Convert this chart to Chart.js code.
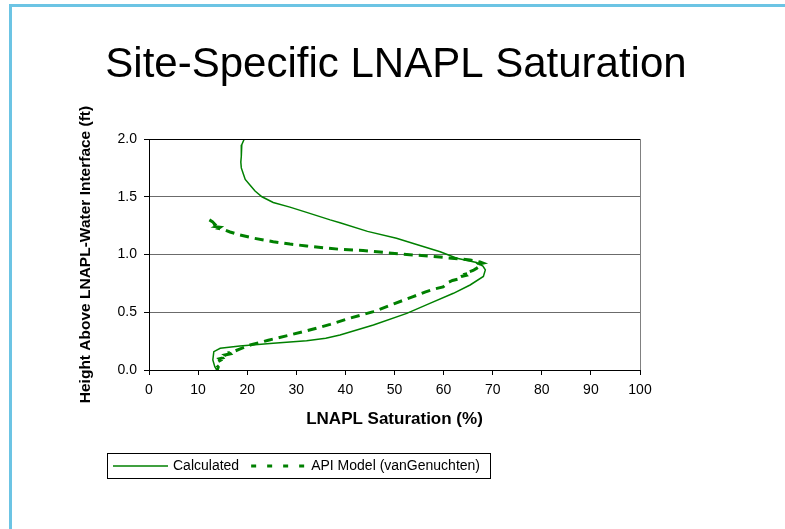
<!DOCTYPE html>
<html>
<head>
<meta charset="utf-8">
<title>Site-Specific LNAPL Saturation</title>
<script src="https://cdn.jsdelivr.net/npm/chart.js@4.4.1/dist/chart.umd.min.js"></script>
<style>
    body { margin: 0; background: #fff; }
    #wrap { position: relative; width: 785px; height: 529px; overflow: hidden; }
    #frame { position: absolute; left: 9px; top: 4px; width: 900px; height: 700px;
             border-left: 3px solid #6cc4e4; border-top: 3px solid #6cc4e4; }
    canvas { position: absolute; left: 0; top: 0; }
</style>
</head>
<body>
<div id="wrap">
    <div id="frame"></div>
    <canvas id="satChart" width="785" height="529"></canvas>
</div>
<script>
    "use strict";

    // Calculated saturation profile (% vs height above interface, ft)
    const calcSat = [19.4, 18.9, 18.8, 18.8, 18.7, 18.8, 19.2, 19.6, 20.6, 21.6, 23.0, 25.3, 28.7, 32.1, 36.9,
        38.9, 44.5, 50.4, 55.0, 59.3, 62.7, 66.7, 68.0, 68.5, 68.1, 65.4, 62.0, 57.2, 52.5, 45.7, 38.9, 36.0,
        32.1, 25.3, 18.5, 14.5, 13.2, 13.0, 13.4, 13.8];
    const calcHeight = [2.00, 1.95, 1.90, 1.85, 1.80, 1.75, 1.70, 1.65, 1.60, 1.55, 1.50, 1.45, 1.41, 1.365, 1.30,
        1.275, 1.20, 1.14, 1.08, 1.024, 0.967, 0.93, 0.90, 0.866, 0.81, 0.736, 0.664, 0.577, 0.49, 0.39, 0.303, 0.274,
        0.254, 0.231, 0.208, 0.188, 0.159, 0.087, 0.029, 0.0];

    // API model (van Genuchten) profile
    const apiSat = [12.3, 12.9, 13.4, 13.0, 14.0, 13.6, 14.5, 14.2, 15.1, 16.5, 18.5, 21.5, 25.3, 28.7, 32.1,
        35.5, 38.9, 43.6, 48.5, 53.8, 57.5, 60.6, 63.2, 65.4, 66.5, 67.4, 68.0, 67.2, 67.6, 66.7, 66.0, 65.2,
        65.5, 64.4, 64.6, 63.6, 62.8, 63.0, 61.8, 61.0, 60.6, 59.9, 58.0, 56.2, 53.8, 50.0, 45.7, 41.0, 38.0,
        36.9, 33.5, 28.7, 24.3, 20.6, 18.7, 17.2, 16.4, 16.6, 15.5, 15.8, 14.8, 15.0, 14.3, 14.6, 14.0, 14.3,
        13.8, 14.1, 13.9];
    const apiHeight = [1.300, 1.285, 1.262, 1.255, 1.248, 1.240, 1.235, 1.226, 1.218, 1.195, 1.169, 1.140, 1.111,
        1.090, 1.074, 1.058, 1.045, 1.035, 1.015, 0.996, 0.985, 0.972, 0.962, 0.952, 0.945, 0.935, 0.925, 0.918,
        0.905, 0.880, 0.862, 0.850, 0.843, 0.830, 0.820, 0.810, 0.795, 0.788, 0.775, 0.760, 0.745, 0.720, 0.700,
        0.675, 0.635, 0.575, 0.505, 0.450, 0.410, 0.395, 0.355, 0.303, 0.258, 0.216, 0.185, 0.159, 0.150, 0.140,
        0.130, 0.122, 0.115, 0.105, 0.097, 0.085, 0.070, 0.055, 0.040, 0.025, 0.0];

    // Axis ticks
    const satTicks = [0, 10, 20, 30, 40, 50, 60, 70, 80, 90, 100];
    const heightTicks = [0, 0.5, 1.0, 1.5, 2.0];

    const chartTitle = "Site-Specific LNAPL Saturation";
    const green = "#008000";
    const fontFamily = '"Liberation Sans", Arial, sans-serif';
    Chart.defaults.font.family = fontFamily;
    Chart.defaults.color = "#000";

    function toPoints(xs, ys) {
        return xs.map(function (x, i) { return { x: x, y: ys[i] }; });
    }

    // Big heading, centred a little right of the plot centre
    const heading = {
        id: "heading",
        afterDraw(chart) {
            const ctx = chart.ctx;
            ctx.save();
            ctx.font = "42px " + fontFamily;
            ctx.fillStyle = "#000";
            ctx.textAlign = "center";
            ctx.textBaseline = "alphabetic";
            ctx.fillText(chartTitle, 396, 77);
            ctx.restore();
        }
    };

    // Top and right edges of the plot area
    const plotFrame = {
        id: "plotFrame",
        afterDatasetsDraw(chart) {
            const a = chart.chartArea;
            const ctx = chart.ctx;
            ctx.save();
            ctx.lineWidth = 1;
            ctx.strokeStyle = "#000";
            ctx.beginPath();
            ctx.moveTo(a.left, Math.round(a.top) + 0.5);
            ctx.lineTo(a.right, Math.round(a.top) + 0.5);
            ctx.stroke();
            ctx.strokeStyle = "#808080";
            ctx.beginPath();
            ctx.moveTo(Math.round(a.right) + 0.5, a.top);
            ctx.lineTo(Math.round(a.right) + 0.5, a.bottom);
            ctx.stroke();
            ctx.restore();
        }
    };

    // Boxed legend below the x axis title
    const legendBox = {
        id: "legendBox",
        afterDraw(chart) {
            const ctx = chart.ctx;
            const y = 466;
            let x = 113;
            ctx.save();
            ctx.strokeStyle = "#000";
            ctx.lineWidth = 1;
            ctx.strokeRect(107.5, 453.5, 383, 25);
            ctx.font = "14px " + fontFamily;
            ctx.textBaseline = "middle";
            chart.data.datasets.forEach(function (ds) {
                ctx.beginPath();
                ctx.strokeStyle = ds.borderColor;
                ctx.lineWidth = ds.borderWidth;
                ctx.setLineDash(ds.legendDash || []);
                ctx.moveTo(x, y);
                ctx.lineTo(x + 55, y);
                ctx.stroke();
                ctx.setLineDash([]);
                ctx.fillStyle = "#000";
                ctx.fillText(ds.label, x + 60, y);
                x += 60 + ctx.measureText(ds.label).width + 12;
            });
            ctx.restore();
        }
    };

    new Chart(document.getElementById("satChart"), {
        type: "scatter",
        data: {
            datasets: [{
                label: "Calculated",
                data: toPoints(calcSat, calcHeight),
                showLine: true,
                borderColor: green,
                borderWidth: 1.5,
                pointRadius: 0,
                tension: 0
            }, {
                label: "API Model (vanGenuchten)",
                data: toPoints(apiSat, apiHeight),
                showLine: true,
                borderColor: green,
                borderWidth: 3,
                borderDash: [9, 6],
                legendDash: [5, 11],
                pointRadius: 0,
                tension: 0
            }]
        },
        options: {
            responsive: false,
            animation: false,
            layout: { padding: { left: 0, right: 145, top: 139, bottom: 0 } },
            plugins: {
                legend: { display: false },
                tooltip: { enabled: false },
                title: { display: false }
            },
            scales: {
                x: {
                    type: "linear",
                    min: 0,
                    max: 100,
                    afterFit(s) { s.height = 159; },
                    afterBuildTicks(s) { s.ticks = satTicks.map(function (v) { return { value: v }; }); },
                    grid: { drawOnChartArea: false, tickLength: 5, tickColor: "#000" },
                    border: { color: "#000" },
                    ticks: { padding: 7, color: "#000", font: { size: 14 }, maxRotation: 0, autoSkip: false },
                    title: {
                        display: true,
                        text: "LNAPL Saturation (%)",
                        color: "#000",
                        font: { size: 17, weight: "bold" },
                        padding: { top: 0, bottom: 99 }
                    }
                },
                y: {
                    type: "linear",
                    min: 0,
                    max: 2,
                    afterFit(s) { s.width = 149; },
                    afterBuildTicks(s) { s.ticks = heightTicks.map(function (v) { return { value: v }; }); },
                    grid: { color: "#6b6b6b", tickColor: "#000", tickLength: 5 },
                    border: { color: "#000" },
                    ticks: {
                        padding: 7,
                        color: "#000",
                        font: { size: 14 },
                        callback: function (v) { return Number(v).toFixed(1); }
                    },
                    title: {
                        display: true,
                        text: "Height Above LNAPL-Water Interface (ft)",
                        color: "#000",
                        font: { size: 15.5, weight: "bold" },
                        padding: { top: 76, bottom: 0 }
                    }
                }
            }
        },
        plugins: [plotFrame, heading, legendBox]
    });
</script>
</body>
</html>
